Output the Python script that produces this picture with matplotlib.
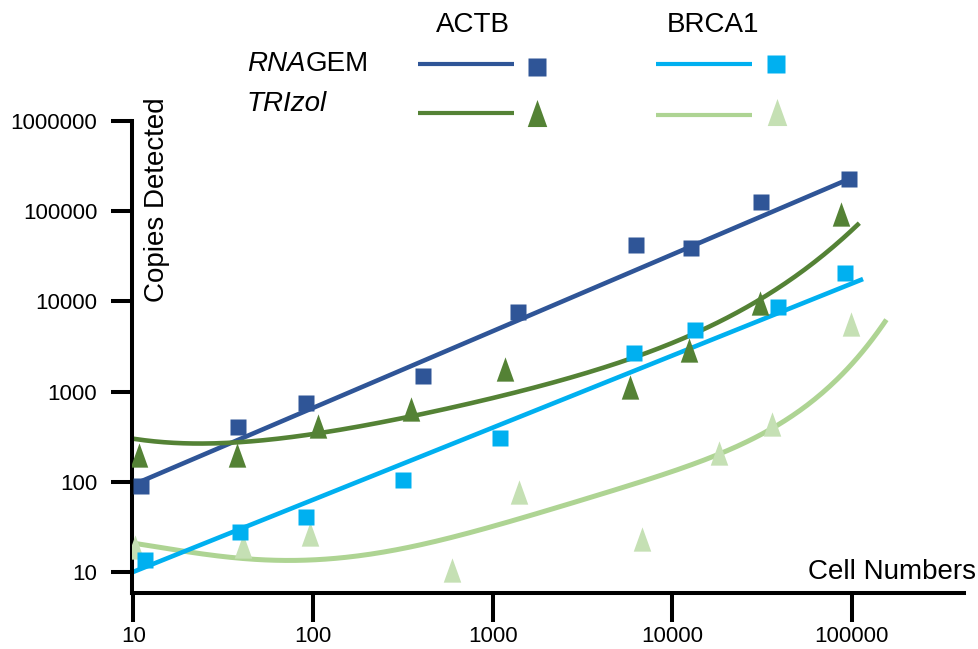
import numpy as np
import matplotlib
matplotlib.use("Agg")
import matplotlib.pyplot as plt
from matplotlib.lines import Line2D
from matplotlib.path import Path
from matplotlib.ticker import NullLocator

plt.rcParams['font.family'] = ['Liberation Sans', 'DejaVu Sans']

# ---------------- data ----------------
actb_rna_cells = [11, 38, 91, 410, 1390, 6290, 12700, 31200, 96500]
actb_rna_copies = [90, 405, 745, 1490, 7630, 42200, 39100, 126000, 228000]

actb_tri_cells = [10.7, 37.7, 107, 351, 1170, 5820, 12400, 30800, 87100]
actb_tri_copies = [198, 198, 415, 641, 1780, 1125, 2890, 9600, 93100]

brca_rna_cells = [11.6, 39.2, 91.4, 317, 1100, 6130, 13400, 38800, 91600]
brca_rna_copies = [13.6, 27.8, 40.7, 105, 306, 2680, 4820, 8670, 20650]

brca_tri_cells = [10.2, 40.8, 96.2, 594, 1400, 6790, 18200, 36000, 99000]
brca_tri_copies = [18.9, 19.4, 26.4, 10.5, 77.1, 23.2, 208, 437, 5610]

# trend lines / curves
actb_rna_fit_cells = [10.5, 96500]
actb_rna_fit_copies = [97, 227500]
brca_rna_fit_cells = [9.95, 115500]
brca_rna_fit_copies = [10, 17700]
actb_tri_fit_cells = [10.2, 34.5, 106, 354, 1100, 3960, 12400, 30800, 58500, 107800]
actb_tri_fit_copies = [296, 278, 339, 523, 917, 1705, 4430, 10550, 23280, 73400]
brca_tri_fit_cells = [10.2, 22.5, 48.6, 124, 305, 1100, 3960, 14280, 35800, 72500, 111100, 153000]
brca_tri_fit_copies = [21.1, 15.7, 13.6, 14.2, 19.1, 32.4, 67.3, 179, 426, 997, 2240, 6660]

x_ticks = [10, 100, 1000, 10000, 100000]
x_tick_labels = ["10", "100", "1000", "10000", "100000"]
y_ticks = [10, 100, 1000, 10000, 100000, 1000000]
y_tick_labels = ["10", "100", "1000", "10000", "100000", "1000000"]

# ---------------- style ----------------
C_ACTB_RNA = "#2F5597"
C_ACTB_TRI = "#548235"
C_BRCA_RNA = "#00B0F0"
C_BRCA_TRI = "#C5E0B4"
C_BRCA_TRI_LINE = "#AED493"

TRI = Path([(0, 1), (-0.72, -1), (0.72, -1), (0, 1)],
           [Path.MOVETO, Path.LINETO, Path.LINETO, Path.CLOSEPOLY])

W, H = 979, 649
fig = plt.figure(figsize=(W / 100, H / 100), dpi=100)


def fx(px):
    return px / W


def fy(py):
    return 1 - py / H


ax = fig.add_axes([fx(132), fy(593), (964 - 132) / W, (593 - 121) / H])
ax.set_xscale('log')
ax.set_yscale('log')
ax.set_xlim(9.82, 4.214e5)
ax.set_ylim(5.85, 1e6)


def smooth(xs, ys, deg):
    lx = np.log10(xs)
    ly = np.log10(ys)
    p = np.polyfit(lx, ly, deg)
    g = np.linspace(lx[0], lx[-1], 300)
    return 10 ** g, 10 ** np.polyval(p, g)


LW = 3.3
ax.plot(actb_rna_fit_cells, actb_rna_fit_copies, color=C_ACTB_RNA, lw=LW, zorder=2,
        solid_capstyle='butt')
ax.plot(brca_rna_fit_cells, brca_rna_fit_copies, color=C_BRCA_RNA, lw=LW, zorder=2,
        solid_capstyle='butt')
sx, sy = smooth(actb_tri_fit_cells, actb_tri_fit_copies, 4)
ax.plot(sx, sy, color=C_ACTB_TRI, lw=LW, zorder=2)
sx, sy = smooth(brca_tri_fit_cells, brca_tri_fit_copies, 5)
ax.plot(sx, sy, color=C_BRCA_TRI_LINE, lw=3.6, zorder=1.9)

ax.plot(actb_rna_cells, actb_rna_copies, ls='none', marker='s', ms=12,
        mfc=C_ACTB_RNA, mec='none', zorder=4)
ax.plot(brca_rna_cells, brca_rna_copies, ls='none', marker='s', ms=12,
        mfc=C_BRCA_RNA, mec='none', zorder=4)
ax.plot(actb_tri_cells, actb_tri_copies, ls='none', marker=TRI, ms=17.5,
        mfc=C_ACTB_TRI, mec='none', zorder=4)
ax.plot(brca_tri_cells, brca_tri_copies, ls='none', marker=TRI, ms=17.5,
        mfc=C_BRCA_TRI, mec='none', zorder=3.5)

# axes styling
for s in ['top', 'right']:
    ax.spines[s].set_visible(False)
for s in ['left', 'bottom']:
    ax.spines[s].set_linewidth(2.9)
    ax.spines[s].set_capstyle('projecting')

ax.set_xticks(x_ticks)
ax.set_xticklabels(x_tick_labels)
ax.set_yticks(y_ticks)
ax.set_yticklabels(y_tick_labels)
ax.xaxis.set_minor_locator(NullLocator())
ax.yaxis.set_minor_locator(NullLocator())
ax.tick_params(axis='x', length=21, width=2.9, pad=3, labelsize=16)
ax.tick_params(axis='y', length=15, width=2.9, pad=10, labelsize=16)

# axis titles
fig.text(fx(157), fy(200), "Copies Detected", rotation=90, ha='center', va='center',
         fontsize=20)
fig.text(fx(976), fy(579), "Cell Numbers", ha='right', va='baseline', fontsize=20)

# ---------------- custom legend ----------------
fig.text(fx(473), fy(32), "ACTB", ha='center', va='baseline', fontsize=20)
fig.text(fx(713), fy(32), "BRCA1", ha='center', va='baseline', fontsize=20)

t_rna = fig.text(fx(247), fy(71), "RNA", ha='left', va='baseline', fontsize=20,
                 style='italic')
fig.canvas.draw()
bb = t_rna.get_window_extent()
fig.text(bb.x1 / W, fy(71), "GEM", ha='left', va='baseline', fontsize=20)
fig.text(fx(247), fy(111), "TRIzol", ha='left', va='baseline', fontsize=20,
         style='italic')

legend_items = [
    (418, 514, 64, 537, 66.7, C_ACTB_RNA, C_ACTB_RNA, 's', 13),
    (418, 514, 112.7, 537, 112.7, C_ACTB_TRI, C_ACTB_TRI, TRI, 19.5),
    (656, 752, 64, 775.5, 63.7, C_BRCA_RNA, C_BRCA_RNA, 's', 13),
    (656, 752, 115.3, 777, 111.7, C_BRCA_TRI_LINE, C_BRCA_TRI, TRI, 19.5),
]
for x0, x1, ly, mx, my, lc, mc, mk, ms in legend_items:
    fig.add_artist(Line2D([fx(x0), fx(x1)], [fy(ly), fy(ly)], color=lc, lw=3.0,
                          transform=fig.transFigure, solid_capstyle='butt'))
    fig.add_artist(Line2D([fx(mx)], [fy(my)], ls='none', marker=mk, ms=ms,
                          mfc=mc, mec='none', transform=fig.transFigure))

fig.savefig("out.png", dpi=100)
